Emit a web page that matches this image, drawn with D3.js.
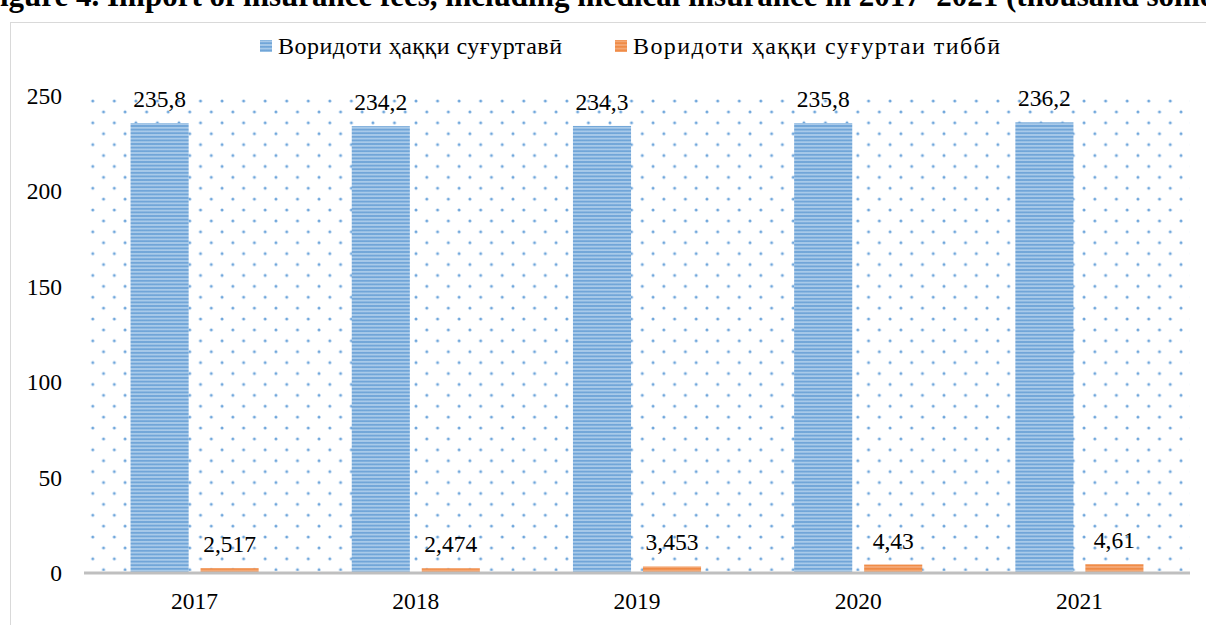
<!DOCTYPE html>
<html><head><meta charset="utf-8">
<script src="https://cdn.jsdelivr.net/npm/d3@7"></script>
<style>
html,body{margin:0;padding:0;background:#fff;overflow:hidden}
svg{display:block}
text{font-family:"Liberation Serif","DejaVu Serif",serif;fill:#000}
</style></head><body>
<svg id="chart" width="1206" height="625"></svg>
<script>
const title = "Figure 4. Import of insurance fees, including medical insurance in 2017–2021 (thousand somoni)";
const categories = ["2017", "2018", "2019", "2020", "2021"];
const seriesNames = ["Воридоти ҳаққи суғуртавӣ", "Воридоти ҳаққи суғуртаи тиббӣ"];
const insurance = [235.8, 234.2, 234.3, 235.8, 236.2];
const medical = [2.517, 2.474, 3.453, 4.43, 4.61];
const insuranceLabels = ["235,8", "234,2", "234,3", "235,8", "236,2"];
const medicalLabels = ["2,517", "2,474", "3,453", "4,43", "4,61"];
const yTicks = [0, 50, 100, 150, 200, 250];

const svg = d3.select("#chart");
const plot = {left: 84, right: 1190, top: 96, bottom: 573};
const fs = 23.5;
const FF = '"Liberation Serif","DejaVu Serif",serif';

const defs = svg.append("defs");
const dp = defs.append("pattern").attr("id","dots").attr("patternUnits","userSpaceOnUse")
  .attr("x",82).attr("y",90.1).attr("width",21.55).attr("height",21.8);
[[0,0],[21.55,0],[0,21.8],[21.55,21.8],[10.78,10.9]].forEach(([cx,cy])=>{
  dp.append("circle").attr("cx",cx).attr("cy",cy).attr("r",1.5).attr("fill","#6fa6db");
});
function stripes(id, dark, light){
  const g = defs.append("linearGradient").attr("id",id+"g").attr("x1",0).attr("x2",0).attr("y1",0).attr("y2",1);
  g.append("stop").attr("offset","0%").attr("stop-color",dark);
  g.append("stop").attr("offset","50%").attr("stop-color",light);
  g.append("stop").attr("offset","100%").attr("stop-color",dark);
  const p = defs.append("pattern").attr("id",id).attr("patternUnits","userSpaceOnUse")
    .attr("x",0).attr("y",0).attr("width",10).attr("height",3.6);
  p.append("rect").attr("width",10).attr("height",3.6).attr("fill","url(#"+id+"g)");
}
stripes("blueS","#5593cf","#c4dcf2");
stripes("orS","#ed7d31","#f6b68a");

// title (cropped at top, as in the reference)
svg.append("text").attr("x",-19).attr("y",6).attr("font-weight","bold").attr("font-size",31)
  .attr("font-family",FF).text(title);

// frame
svg.append("rect").attr("x",10.5).attr("y",22.5).attr("width",1300).attr("height",700)
  .attr("fill","none").attr("stroke","#d9d9d9").attr("stroke-width",1);

const x = d3.scaleBand().domain(categories).range([plot.left, plot.right]).paddingInner(0).paddingOuter(0);
const x1 = d3.scaleBand().domain([0,1]).range([0, x.bandwidth()]).paddingInner(0.17).paddingOuter(0.665);
const y = d3.scaleLinear().domain([0,250]).range([plot.bottom, plot.top]);

svg.append("rect").attr("x",plot.left).attr("y",plot.top).attr("width",plot.right-plot.left)
  .attr("height",plot.bottom-plot.top-2).attr("fill","url(#dots)");

const yAxis = d3.axisLeft(y).tickValues(yTicks).tickSize(0).tickPadding(0).tickFormat(d3.format("d"));
const ya = svg.append("g").attr("transform","translate(62,0)").call(yAxis);
ya.select(".domain").remove();
ya.selectAll("text").attr("font-size",fs).attr("font-family",FF).attr("fill","#000").attr("dy","0.32em");

const series = [
  {vals: insurance, labels: insuranceLabels, fill: "url(#blueS)"},
  {vals: medical, labels: medicalLabels, fill: "url(#orS)"}
];
series.forEach((s, si) => {
  const g = svg.append("g");
  g.selectAll("rect").data(categories).join("rect")
    .attr("x",(c)=>x(c)+x1(si)).attr("width",x1.bandwidth())
    .attr("y",(c,i)=>y(s.vals[i])).attr("height",(c,i)=>y(0)-y(s.vals[i]))
    .attr("fill",s.fill);
  g.selectAll("text").data(categories).join("text")
    .attr("x",(c)=>x(c)+x1(si)+x1.bandwidth()/2)
    .attr("y",(c,i)=>y(s.vals[i])-16)
    .attr("text-anchor","middle").attr("font-size",fs).attr("font-family",FF)
    .text((c,i)=>s.labels[i]);
});

svg.append("line").attr("x1",plot.left).attr("x2",plot.right).attr("y1",plot.bottom).attr("y2",plot.bottom)
  .attr("stroke","#bfbfbf").attr("stroke-width",3);
const xAxis = d3.axisBottom(x).tickSize(0).tickPadding(0);
const xa = svg.append("g").attr("transform","translate(0,609)").call(xAxis);
xa.select(".domain").remove();
xa.selectAll("text").attr("font-size",fs).attr("font-family",FF).attr("fill","#000").attr("dy","0");

const leg = svg.append("g");
const legX = [260, 615];
const legLen = [284, 367];
const legFill = ["url(#blueS)","url(#orS)"];
seriesNames.forEach((n,i)=>{
  leg.append("rect").attr("x",legX[i]).attr("y",40).attr("width",12).attr("height",12).attr("fill",legFill[i]);
  leg.append("text").attr("x",legX[i]+18).attr("y",54).attr("font-size",24).attr("font-family",FF)
    .attr("textLength",legLen[i]).attr("lengthAdjust","spacing").text(n);
});
</script>
</body></html>
